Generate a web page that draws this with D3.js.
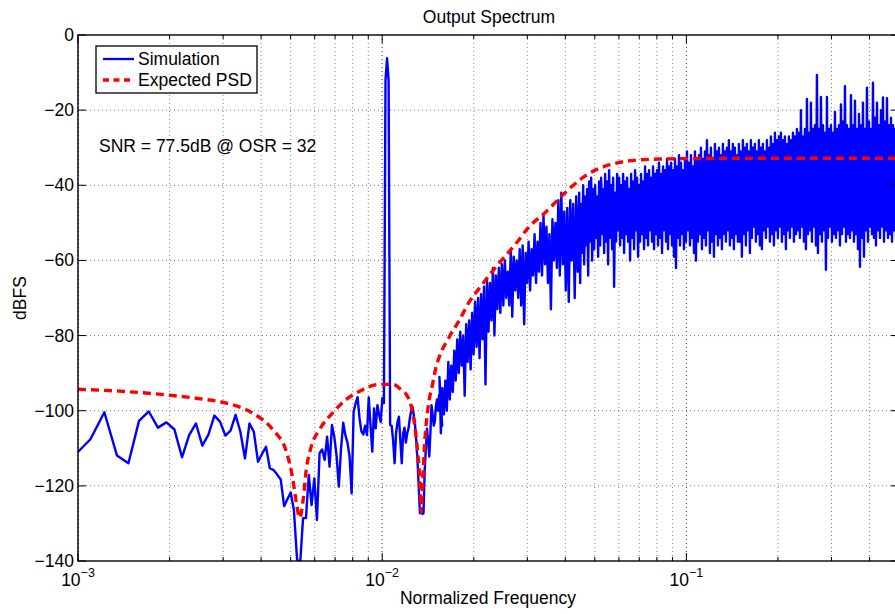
<!DOCTYPE html>
<html>
<head>
<meta charset="utf-8">
<script src="https://cdn.jsdelivr.net/npm/d3@7"></script>
<style>
body{margin:0;background:#fff}
text{font-family:"Liberation Sans",Arial,Helvetica,sans-serif;fill:#000}
</style>
</head>
<body>
<svg id="chart"></svg>
<script>
var screen = {width:895, height:614}
var margins = {top:35, left:78, right:899, bottom:561}

// fft bins of the low part (N = 8192, first visible bin = 8)
var fftN = 8192
var firstBin = 8
var lowDb = [-111.8,-107.6,-100.4,-111.9,-114.0,-102.7,-100.2,-104.5,-103.1,-105.0,
  -112.4,-106.5,-103.4,-109.3,-106.3,-101.3,-102.9,-106.6,-105.3,-101.1,
  -105.6,-112.7,-103.4,-105.6,-113.6,-111.5,-109.6,-115.3,-115.8,-117.0,
  -118.3,-125.4,-123.5,-121.8,-126.5,-139.5,-141.0,-128.6,-128.6,-117.1,
  -125.1,-118.0,-129.1,-111.3,-110.3,-113.1,-106.9,-114.9,-103.8,-106.9,
  -112.0,-120.2,-110.0,-103.2,-106.5,-108.5,-112.2,-122.0,-100.3,-98.0,
  -96.4,-102.0,-105.5,-106.3,-104.0,-106.5,-96.5,-104.0,-110.9,-99.4,
  -104.7,-98.5,-101.0,-103.0,-96.7,-98.0,-12.0,-6.2,-12.0,-103.8,
  -104.0,-108.0,-114.0,-106.0,-103.0,-101.6,-108.0,-114.0,-106.0,-104.5,
  -108.5,-106.0,-104.7,-102.0,-100.0,-98.9,-101.0,-103.5,-108.0,-113.1,
  -120.0,-127.3,-126.0,-127.5,-127.3,-116.0,-110.0,-104.8,-108.0,-112.2,
  -106.0,-98.5,-101.0,-104.0,-103.0,-99.0,-97.0,-100.0,-95.8,-99.0,
  -101.0,-104.0]

// dense part, read as alternating peak / trough values
var segEdges = [0.01542, 0.04442, 0.1488, 0.5]
var riseDb = [-91,-106,-94,-101,-92,-100,-87,-97,-88,-95,-84,-92,-81,-90,-79,-88,-80,-96,-77,-87,
  -76,-89,-74,-85,-71,-83,-70,-86,-69,-81,-67,-93,-65,-79,-66,-76,-62,-80,-64,-73,
  -62,-74,-61,-72,-60,-70,-63,-72,-57,-75,-59,-68,-60,-70,-57,-72,-56,-77,-58,-66,
  -55,-68,-57,-64,-53,-66,-55,-63,-50,-64,-48,-61,-51,-66,-53,-73,-49,-60,-50,-62,
  -44,-64,-42,-61,-47,-68,-46,-71,-44,-60,-45,-70,-43,-63]
var midDb = [-42,-66,-45,-58,-40,-61,-43,-56,-41,-64,-39,-55,-38,-60,-41,-57,-40,-54,-43,-59,
  -39,-56,-38,-53,-41,-58,-37,-55,-39,-61,-36,-54,-40,-57,-38,-67,-42,-55,-37,-52,
  -38,-56,-40,-54,-37,-58,-39,-53,-38,-55,-41,-60,-37,-54,-39,-57,-36,-52,-38,-59,
  -40,-55,-37,-53,-39,-57,-35,-54,-37,-56,-36,-52,-38,-55,-35,-57,-37,-53,-36,-56,
  -34,-54,-37,-58,-35,-52,-36,-55,-33,-57,-35,-53,-34,-56,-36,-59,-33,-62,-35,-54,
  -32,-56,-34,-53,-36,-57,-33,-55,-31,-52,-34,-56,-32,-54,-35,-58,-31,-60,-33,-55,
  -32,-53,-30,-57,-33,-54,-31,-56,-28,-52,-32,-58,-30,-55,-33,-59,-29,-53,-31,-56,
  -30,-54,-32,-57,-29,-53,-31,-55,-30,-52,-28,-56,-31,-54,-29,-57,-30,-53,-32,-55]
var highDb = [-29,-55,-31,-59,-28,-53,-30,-56,-29,-52,-31,-58,-28,-54,-30,-51,-29,-55,-31,-53,
  -28,-56,-30,-57,-29,-52,-31,-54,-28,-51,-30,-55,-27,-53,-29,-56,-26,-52,-28,-54,
  -27,-51,-26,-55,-28,-53,-27,-57,-29,-52,-27,-54,-28,-51,-26,-55,-27,-53,-25,-52,
  -26,-54,-20,-51,-27,-55,-25,-57,-17,-53,-26,-52,-18,-55,-25,-51,-24,-56,-10.6,-58,
  -25,-53,-16.5,-55,-24,-52,-26,-62.5,-16.5,-54,-25,-51,-24,-55,-26,-53,-20.5,-54,-25,-52,
  -24,-56,-18.5,-53,-23,-51,-13.6,-55,-24,-53,-25,-54,-16,-52,-24,-55,-17.5,-53,-25,-57,
  -21,-61.7,-24,-54,-18,-59,-25,-52,-14,-55,-23,-51,-25,-53,-12.7,-54,-22,-56,-18,-52,
  -24,-54,-20,-51,-16.6,-55,-23,-52,-16.8,-54,-24,-53,-22,-55,-24,-52,-25,-54,-24,-53]

// expected psd
var psdFreq = [0.001,0.001373,0.001955,0.002514,0.003076,0.003761,0.004375,0.004842,0.005088,0.005222,
  0.005354,0.005491,0.005632,0.005848,0.006226,0.006885,0.007618,0.008425,0.009797,0.01083,
  0.01168,0.01199,0.0126,0.01309,0.01333,0.01343,0.01359,0.01377,0.01412,0.01466,
  0.01504,0.01542,0.01663,0.01794,0.01934,0.02086,0.02366,0.02754,0.03044,0.03409,
  0.04016,0.04222,0.04613,0.05039,0.05571,0.06817,0.08318,0.102,0.2348,0.5]
var psdDb = [-94.3,-94.8,-95.8,-96.8,-98.0,-100.7,-105.1,-110.9,-118.4,-124.5,
  -128.5,-124,-115.5,-109.5,-105,-100.5,-97,-94.8,-93.0,-93.0,
  -94.8,-95.6,-100.7,-111.3,-120.2,-127.0,-119,-109.6,-99.8,-92.7,
  -88.3,-85.6,-80.3,-75.9,-71.0,-67.4,-61.7,-55.5,-51.0,-47.5,
  -41.8,-40.2,-37.7,-35.9,-34.6,-33.3,-33.0,-32.9,-32.8,-32.8]

var yTicks = [0,-20,-40,-60,-80,-100,-120,-140]
var xMajor = [0.001,0.01,0.1]
var xMajorExp = ["\u22123","\u22122","\u22121"]
var xMinor = [0.002,0.003,0.004,0.005,0.006,0.007,0.008,0.009,
  0.02,0.03,0.04,0.05,0.06,0.07,0.08,0.09,0.2,0.3,0.4]

var legendNames = ["Simulation","Expected PSD"]
var noteText = "SNR = 77.5dB @ OSR = 32"

var xScale = d3.scaleLog().domain([0.001,0.5]).range([margins.left, margins.right])
var yScale = d3.scaleLinear().domain([-140,0]).range([margins.bottom, margins.top])

var svg = d3.select("#chart")
    .attr("width", screen.width)
    .attr("height", screen.height)

svg.append("defs").append("clipPath").attr("id","plotclip")
    .append("rect")
    .attr("x", margins.left).attr("y", margins.top)
    .attr("width", margins.right-margins.left).attr("height", margins.bottom-margins.top)

// grid
var grid = svg.append("g")
grid.selectAll(".gminor").data(xMinor).enter().append("line")
    .attr("x1", function(d){return xScale(d)}).attr("x2", function(d){return xScale(d)})
    .attr("y1", margins.top).attr("y2", margins.bottom)
    .attr("stroke","#888").attr("stroke-width",1).attr("stroke-dasharray","1,3")
grid.selectAll(".gmajor").data(xMajor).enter().append("line")
    .attr("x1", function(d){return xScale(d)}).attr("x2", function(d){return xScale(d)})
    .attr("y1", margins.top).attr("y2", margins.bottom)
    .attr("stroke","#333").attr("stroke-width",1).attr("stroke-dasharray","1,3")
grid.selectAll(".gy").data(yTicks.slice(1,-1)).enter().append("line")
    .attr("x1", margins.left).attr("x2", margins.right)
    .attr("y1", function(d){return yScale(d)}).attr("y2", function(d){return yScale(d)})
    .attr("stroke","#777").attr("stroke-width",1).attr("stroke-dasharray","1,3")

// data
var sim = lowDb.map(function(d,i){ return [(firstBin+i)/fftN, d] })
var segs = [riseDb, midDb, highDb]
segs.forEach(function(vals, s){
    var f0 = segEdges[s], f1 = segEdges[s+1]
    vals.forEach(function(v, j){
        sim.push([f0*Math.pow(f1/f0, j/vals.length), v])
    })
})
var psd = psdFreq.map(function(f,i){ return [f, psdDb[i]] })

var plot = svg.append("g").attr("clip-path","url(#plotclip)")
var line = d3.line().x(function(d){return xScale(d[0])}).y(function(d){return yScale(d[1])})

plot.append("path").datum(sim)
    .attr("d", line)
    .attr("fill","none").attr("stroke","#0000ff").attr("stroke-width",2.4)
    .attr("stroke-linejoin","round")

plot.append("path").datum(psd)
    .attr("d", line.curve(d3.curveMonotoneX))
    .attr("fill","none").attr("stroke","#ff0000").attr("stroke-width",3.4)
    .attr("stroke-dasharray","8,5")

// axes box and ticks
var ax = svg.append("g").attr("stroke","#000")
ax.append("rect")
    .attr("x", margins.left).attr("y", margins.top)
    .attr("width", margins.right-margins.left).attr("height", margins.bottom-margins.top)
    .attr("fill","none").attr("stroke-width",1.4)
xMajor.concat(xMinor).forEach(function(d){
    var len = xMajor.indexOf(d) >= 0 ? 8 : 4
    var x = xScale(d)
    ax.append("line").attr("x1",x).attr("x2",x).attr("y1",margins.bottom).attr("y2",margins.bottom-len).attr("stroke-width",1)
    ax.append("line").attr("x1",x).attr("x2",x).attr("y1",margins.top).attr("y2",margins.top+len).attr("stroke-width",1)
})
yTicks.forEach(function(d){
    var y = yScale(d)
    ax.append("line").attr("x1",margins.left).attr("x2",margins.left+8).attr("y1",y).attr("y2",y).attr("stroke-width",1)
    ax.append("line").attr("x1",margins.right).attr("x2",margins.right-8).attr("y1",y).attr("y2",y).attr("stroke-width",1)
})

// tick labels
svg.selectAll(".ylab").data(yTicks).enter().append("text")
    .attr("x", margins.left-4).attr("y", function(d){return yScale(d)+6})
    .attr("text-anchor","end").style("font-size","17.5px")
    .text(function(d){ return d == 0 ? "0" : "\u2212" + Math.abs(d) })

xMajor.forEach(function(d,i){
    var t = svg.append("text").attr("x", xScale(d)).attr("y", 586)
        .attr("text-anchor","middle").style("font-size","17.5px")
    t.append("tspan").text("10")
    t.append("tspan").attr("dy",-9).style("font-size","12.5px").text(xMajorExp[i])
})

// titles
svg.append("text").attr("x",489).attr("y",23).attr("text-anchor","middle")
    .style("font-size","17.5px").text("Output Spectrum")
svg.append("text").attr("x",488).attr("y",604).attr("text-anchor","middle")
    .style("font-size","17.5px").text("Normalized Frequency")
svg.append("text").attr("transform","translate(26,298) rotate(-90)").attr("text-anchor","middle")
    .style("font-size","17.5px").text("dBFS")
svg.append("text").attr("x",99).attr("y",152)
    .style("font-size","17.5px").text(noteText)

// legend
var lg = svg.append("g")
lg.append("rect").attr("x",96).attr("y",46).attr("width",161).attr("height",47)
    .attr("fill","#fff").attr("stroke","#000").attr("stroke-width",1.3)
lg.append("line").attr("x1",103).attr("x2",134).attr("y1",59).attr("y2",59)
    .attr("stroke","#0000ff").attr("stroke-width",2.3)
lg.append("line").attr("x1",103).attr("x2",134).attr("y1",80).attr("y2",80)
    .attr("stroke","#ff0000").attr("stroke-width",3.4).attr("stroke-dasharray","6,4.5")
lg.selectAll(".lt").data(legendNames).enter().append("text")
    .attr("x",138).attr("y",function(d,i){return 65+i*21})
    .style("font-size","17.5px").text(function(d){return d})
</script>
</body>
</html>
